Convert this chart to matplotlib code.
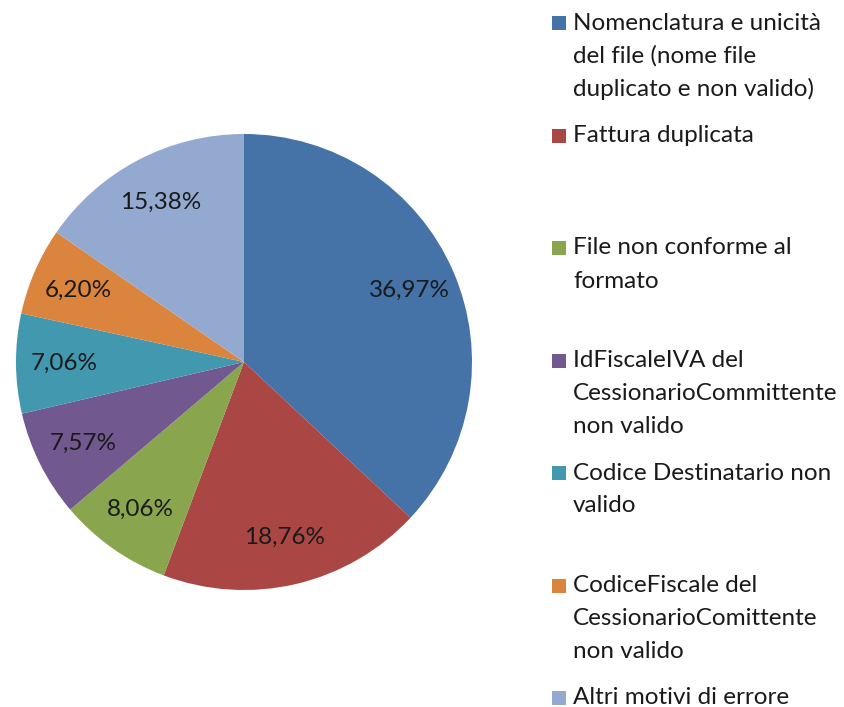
import matplotlib.pyplot as plt
from matplotlib.patches import Rectangle

plt.rcParams['font.family'] = ['Lato', 'DejaVu Sans']

labels = [
    "Nomenclatura e unicità\ndel file (nome file\nduplicato e non valido)",
    "Fattura duplicata",
    "File non conforme al\nformato",
    "IdFiscaleIVA del\nCessionarioCommittente\nnon valido",
    "Codice Destinatario non\nvalido",
    "CodiceFiscale del\nCessionarioComittente\nnon valido",
    "Altri motivi di errore",
]
values = [36.97, 18.76, 8.06, 7.57, 7.06, 6.20, 15.38]
colors = ["#4572A7", "#AA4643", "#89A54E", "#71588F", "#4198AF", "#DB843D", "#93A9CF"]

W, H = 844, 707
fig = plt.figure(figsize=(W / 100, H / 100), dpi=100)

# pie axes: centre (244, 362), radius 228 px
cx, cy, r = 244, 362, 228
ax = fig.add_axes([(cx - r) / W, 1 - (cy + r) / H, 2 * r / W, 2 * r / H])
ax.pie(values, colors=colors, startangle=90, counterclock=False,
       radius=1.0, pctdistance=0.79,
       autopct=lambda p: f"{p:.2f}%".replace(".", ","),
       textprops={'fontsize': 17.5, 'color': '#1a1a1a'},
       wedgeprops={'linewidth': 0})
ax.set_xlim(-1, 1)
ax.set_ylim(-1, 1)
ax.set_aspect('equal')
ax.axis('off')

# legend, fixed slots
first_y = 23
slot = 112.5
line_h = 33
for i, (lab, col) in enumerate(zip(labels, colors)):
    y0 = first_y + i * slot
    fig.patches.append(Rectangle(((552) / W, 1 - (y0 + 7) / H), 14 / W, 14 / H,
                                 transform=fig.transFigure, facecolor=col,
                                 edgecolor='none'))
    for k, line in enumerate(lab.split("\n")):
        fig.text(573 / W, 1 - (y0 + k * line_h) / H, line, fontsize=17.5,
                 va='center', ha='left', color='#1a1a1a')

fig.savefig("out.png", dpi=100)
